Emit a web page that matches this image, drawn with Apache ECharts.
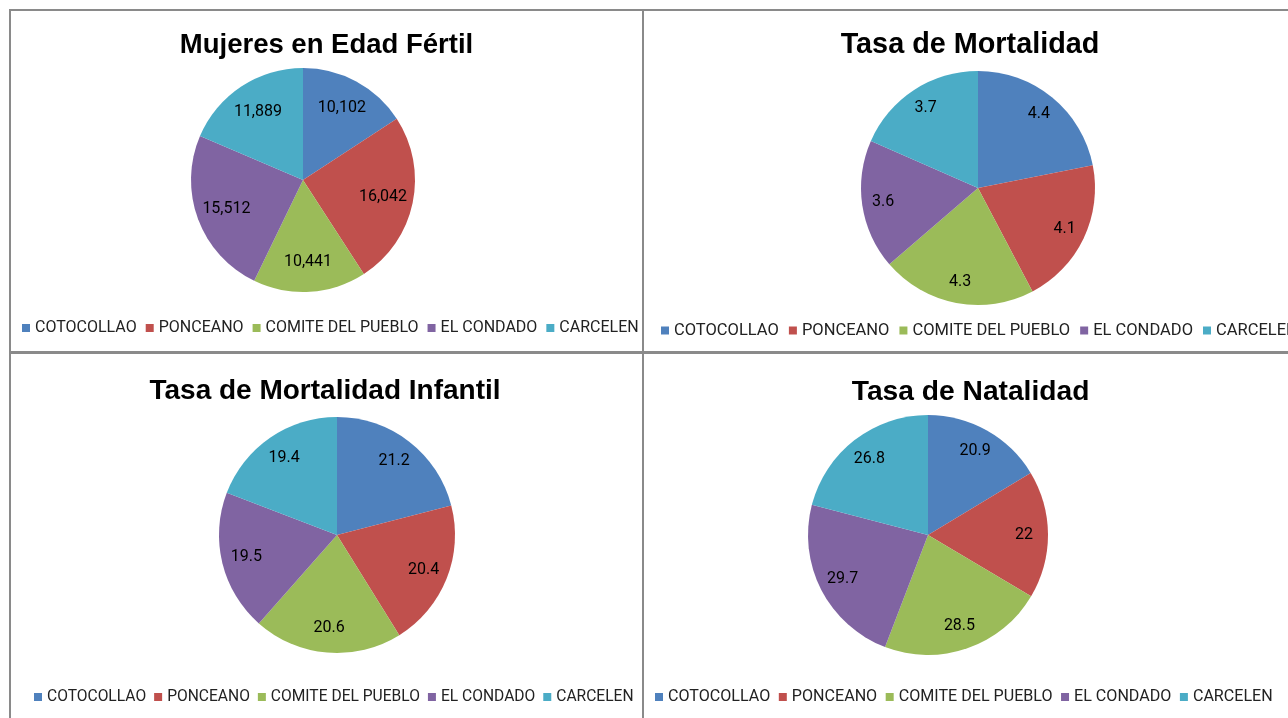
<!DOCTYPE html>
<html><head><meta charset="utf-8">
<script src="https://cdn.jsdelivr.net/npm/echarts@6/dist/echarts.min.js"></script>
<style>html,body{margin:0;padding:0;background:#fff}#c{width:1288px;height:718px}</style>
</head><body><div id="c"></div>
<script>
const categories = ['COTOCOLLAO', 'PONCEANO', 'COMITE DEL PUEBLO', 'EL CONDADO', 'CARCELEN'];
const chartTitles = ['Mujeres en Edad Fértil', 'Tasa de Mortalidad', 'Tasa de Mortalidad Infantil', 'Tasa de Natalidad'];
const mujeresEdadFertil = [10102, 16042, 10441, 15512, 11889];
const tasaMortalidad = [4.4, 4.1, 4.3, 3.6, 3.7];
const tasaMortalidadInfantil = [21.2, 20.4, 20.6, 19.5, 19.4];
const tasaNatalidad = [20.9, 22, 28.5, 29.7, 26.8];
const seriesValues = [mujeresEdadFertil, tasaMortalidad, tasaMortalidadInfantil, tasaNatalidad];
const colors = ['#4F81BD', '#C0504D', '#9BBB59', '#8064A2', '#4BACC6'];

const panels = [
  {cx: 303, cy: 180, r: 112, ratio: 0.73, tx: 326.5, tt: 31, ts: 27.5, ll: 22, lt: 320, lg: 9, ls: 16},
  {cx: 978, cy: 188, r: 117, ratio: 0.82, tx: 970, tt: 31, ts: 28.8, ll: 661, lt: 322, lg: 10, ls: 16.5},
  {cx: 337, cy: 535, r: 118, ratio: 0.79, tx: 325, tt: 377, ts: 28, ll: 34, lt: 689, lg: 8, ls: 15.6},
  {cx: 928, cy: 535, r: 120, ratio: 0.80, tx: 970.6, tt: 378, ts: 28.2, ll: 655, lt: 689, lg: 8.5, ls: 16.1}
];

const chart = echarts.init(document.getElementById('c'), null, {renderer: 'canvas'});
const lineStyle = {stroke: '#8a8a8a', lineWidth: 2};
const option = {
  animation: false,
  color: colors,
  title: panels.map((p, i) => ({
    text: chartTitles[i], left: p.tx, top: p.tt, textAlign: 'center', padding: 0,
    textStyle: {fontFamily: 'Liberation Sans', fontWeight: 'bold', fontSize: p.ts, color: '#000'}
  })),
  legend: panels.map((p) => ({
    data: categories, left: p.ll, top: p.lt, width: 900, orient: 'horizontal', padding: 0,
    itemWidth: 8, itemHeight: 8, itemGap: p.lg, icon: 'rect', selectedMode: false,
    textStyle: {fontFamily: 'Roboto', fontSize: p.ls, color: '#222'}
  })),
  graphic: [
    {type: 'line', shape: {x1: 9, y1: 10, x2: 1288, y2: 10}, style: lineStyle},
    {type: 'line', shape: {x1: 10, y1: 9, x2: 10, y2: 718}, style: lineStyle},
    {type: 'line', shape: {x1: 643, y1: 9, x2: 643, y2: 718}, style: lineStyle},
    {type: 'line', shape: {x1: 9, y1: 352.5, x2: 1288, y2: 352.5}, style: {stroke: '#8a8a8a', lineWidth: 3}}
  ],
  series: panels.map((p, i) => ({
    type: 'pie',
    center: [p.cx, p.cy],
    radius: [0, p.r],
    startAngle: 90,
    clockwise: true,
    itemStyle: {borderWidth: 0},
    label: {
      show: true, position: 'inside', color: '#000', fontFamily: 'Roboto', fontSize: 16,
      formatter: (d) => i === 0 ? d.value.toLocaleString('en-US') : String(d.value)
    },
    labelLine: {show: false},
    labelLayout: (lp) => {
      const lx = lp.labelRect.x + lp.labelRect.width / 2;
      const ly = lp.labelRect.y + lp.labelRect.height / 2;
      const dx = lx - p.cx, dy = ly - p.cy;
      const d = Math.sqrt(dx * dx + dy * dy) || 1;
      const k = p.ratio * p.r / d;
      return {x: p.cx + dx * k, y: p.cy + dy * k};
    },
    emphasis: {disabled: true},
    data: categories.map((c, j) => ({name: c, value: seriesValues[i][j]}))
  }))
};
chart.setOption(option);
</script></body></html>
